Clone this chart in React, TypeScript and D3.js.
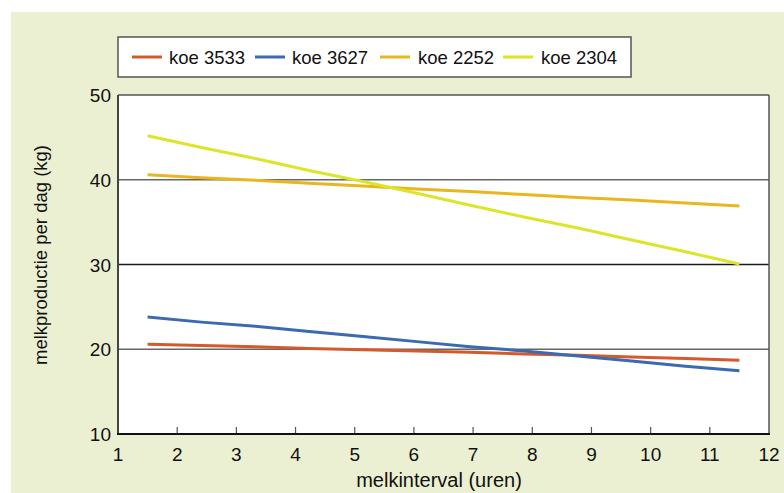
import React from "react";
import * as d3 from "d3";

const xValues = [1.5, 2.41, 3.32, 4.23, 5.14, 6.05, 6.95, 7.86, 8.77, 9.68, 10.59, 11.5];
const koe3533 = [20.6, 20.45, 20.3, 20.1, 19.95, 19.8, 19.65, 19.45, 19.3, 19.1, 18.9, 18.7];
const koe3627 = [23.8, 23.2, 22.7, 22.1, 21.5, 20.9, 20.3, 19.8, 19.2, 18.6, 18.0, 17.45];
const koe2252 = [40.6, 40.25, 39.95, 39.6, 39.25, 38.9, 38.6, 38.25, 37.9, 37.6, 37.25, 36.9];
const koe2304 = [45.2, 43.8, 42.5, 41.1, 39.8, 38.4, 37.0, 35.6, 34.3, 32.9, 31.5, 30.05];

const seriesNames = ["koe 3533", "koe 3627", "koe 2252", "koe 2304"];
const seriesValues = [koe3533, koe3627, koe2252, koe2304];
const seriesColors = ["#d45a2c", "#3b69b2", "#e8b61e", "#dde52a"];

const xTicks = [1, 2, 3, 4, 5, 6, 7, 8, 9, 10, 11, 12];
const yTicks = [10, 20, 30, 40, 50];
const gridValues = [20, 30, 40];

const W = 784;
const H = 493;
const left = 118;
const right = 769;
const top = 95;
const bottom = 434;
const FONT = "'Liberation Sans', Arial, Helvetica, sans-serif";

export default function App() {
  const x = d3.scaleLinear().domain([1, 12]).range([left, right]);
  const y = d3.scaleLinear().domain([10, 50]).range([bottom, top]);
  const line = d3
    .line<number>()
    .x((_, i) => x(xValues[i]))
    .y((d) => y(d));

  const legendItems = [
    { sx: 132, tx: 169 },
    { sx: 255, tx: 292 },
    { sx: 380, tx: 418 },
    { sx: 503, tx: 541 },
  ];

  return (
    <svg
      width={W}
      height={H}
      style={{ position: "absolute", left: 0, top: 0, fontFamily: FONT }}
    >
      <rect x={0} y={0} width={W} height={H} fill="#ffffff" />
      <rect x={11} y={12} width={W - 11} height={H - 12} fill="#ebf0d2" />

      {/* legend */}
      <rect x={118} y={37} width={513} height={40} fill="#ffffff" stroke="#555" strokeWidth={1.5} />
      {seriesNames.map((n, i) => (
        <g key={n}>
          <line
            x1={legendItems[i].sx}
            x2={legendItems[i].sx + 30}
            y1={57}
            y2={57}
            stroke={seriesColors[i]}
            strokeWidth={3}
          />
          <text x={legendItems[i].tx} y={63.5} fontSize={18.5} fill="#111">
            {n}
          </text>
        </g>
      ))}

      {/* plot area */}
      <rect x={left} y={top} width={right - left} height={bottom - top} fill="#ffffff" />
      {gridValues.map((g) => (
        <line
          key={g}
          x1={left}
          x2={right}
          y1={y(g)}
          y2={y(g)}
          stroke={g === 30 ? "#1a1a1a" : "#666"}
          strokeWidth={1.5}
        />
      ))}
      {xTicks.slice(1, -1).map((t) => (
        <line key={t} x1={x(t)} x2={x(t)} y1={bottom} y2={bottom - 7} stroke="#555" strokeWidth={1.2} />
      ))}
      <line x1={left} x2={right} y1={top} y2={top} stroke="#555" strokeWidth={1.5} />
      <line x1={right} x2={right} y1={top} y2={bottom} stroke="#555" strokeWidth={1.5} />
      <line x1={left} x2={left} y1={top} y2={bottom + 1} stroke="#444" strokeWidth={2} />
      <line x1={left - 1} x2={right + 1} y1={bottom} y2={bottom} stroke="#111" strokeWidth={2} />

      {seriesValues.map((vals, i) => (
        <path key={i} d={line(vals) || ""} fill="none" stroke={seriesColors[i]} strokeWidth={3} />
      ))}

      {/* tick labels */}
      {yTicks.map((t) => (
        <text key={t} x={111} y={y(t) + 7} fontSize={19} textAnchor="end" fill="#111">
          {t}
        </text>
      ))}
      {xTicks.map((t) => (
        <text key={t} x={x(t)} y={461} fontSize={19} textAnchor="middle" fill="#111">
          {t}
        </text>
      ))}

      <text x={439} y={486.5} fontSize={20} textAnchor="middle" fill="#111">
        melkinterval (uren)
      </text>
      <text
        transform={`translate(47,255) rotate(-90)`}
        fontSize={18.5}
        textAnchor="middle"
        fill="#111"
      >
        melkproductie per dag (kg)
      </text>
    </svg>
  );
}
